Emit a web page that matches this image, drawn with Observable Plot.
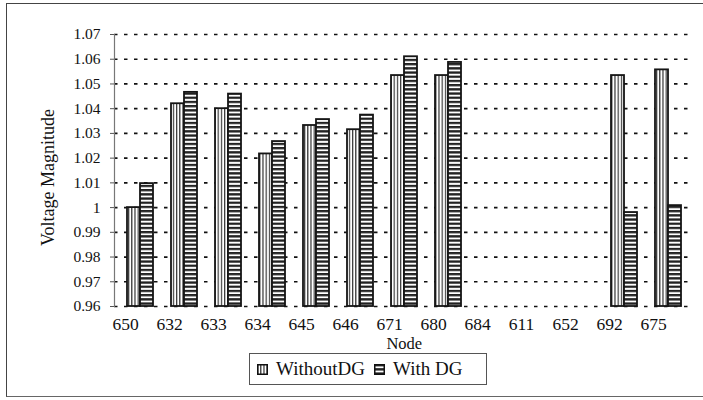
<!DOCTYPE html>
<html>
<head>
<meta charset="utf-8">
<script src="https://cdn.jsdelivr.net/npm/d3@7"></script>
<script src="https://cdn.jsdelivr.net/npm/@observablehq/plot@0.6"></script>
<style>
  body { margin: 0; background: #fff; }
  #wrap { position: relative; width: 703px; height: 400px; overflow: hidden; background: #fff; font-family: "Liberation Serif", "DejaVu Serif", serif; }
  #border { position: absolute; left: 6px; top: 3px; width: 720px; height: 394px; border-left: 1.5px solid #444; border-top: 1.5px solid #444; border-bottom: 1.5px solid #666; box-sizing: border-box; }
  #chart { position: absolute; left: 0; top: 0; }
  #chart svg text { font-family: "Liberation Serif", "DejaVu Serif", serif; }
  #legend { position: absolute; left: 249px; top: 353px; width: 238px; height: 32px; border: 1px solid #555; box-sizing: border-box; display: flex; align-items: center; padding-left: 7px; font-size: 19px; color: #111; font-family: "Liberation Serif", serif; }
  .item { display: flex; align-items: center; margin-right: 9px; }
  .item svg { margin-right: 8px; }
</style>
</head>
<body>
<div id="wrap">
  <div id="border"></div>
  <div id="chart"></div>
  <div id="legend"></div>
</div>
<script>
const nodes = ["650","632","633","634","645","646","671","680","684","611","652","692","675"];
const withoutDG = [1.000, 1.042, 1.040, 1.0217, 1.0332, 1.0315, 1.0534, 1.0534, null, null, null, 1.0534, 1.0557];
const withDG = [1.0097, 1.0466, 1.0459, 1.0267, 1.0356, 1.0374, 1.061, 1.0587, null, null, null, 0.998, 1.0008];
const seriesNames = ["WithoutDG", "With DG"];
const yTicks = [0.96, 0.97, 0.98, 0.99, 1.00, 1.01, 1.02, 1.03, 1.04, 1.05, 1.06, 1.07];
const yTickLabels = ["0.96","0.97","0.98","0.99","1","1.01","1.02","1.03","1.04","1.05","1.06","1.07"];

const rowsA = nodes.map((n, i) => ({node: n, value: withoutDG[i]})).filter(d => d.value != null);
const rowsB = nodes.map((n, i) => ({node: n, value: withDG[i]})).filter(d => d.value != null);
const serif = "Liberation Serif";

const plot = Plot.plot({
  width: 703,
  height: 352,
  marginLeft: 114,
  marginRight: 9.5,
  marginTop: 34,
  marginBottom: 46,
  style: {fontFamily: serif, background: "transparent", color: "#111"},
  x: {domain: nodes, paddingInner: 0.417, paddingOuter: 0.2085, axis: null},
  y: {domain: [0.96, 1.07], axis: null},
  marks: [
    Plot.ruleY(yTicks, {stroke: "#111", strokeWidth: 1.7, strokeDasharray: "3.5,6.5"}),
    Plot.axisY(yTicks, {tickSize: 4, tickPadding: 10, tickFormat: (d, i) => yTickLabels[i], fontSize: 15.5, fontFamily: serif, label: null, stroke: "#555"}),
    Plot.frame({anchor: "left", stroke: "#777", strokeWidth: 1.2}),
    Plot.barY(rowsA, {x: "node", y1: 0.96, y2: "value", fill: "url(#vstripe)", stroke: "#151515", strokeWidth: 1.8, insetRight: 13}),
    Plot.barY(rowsB, {x: "node", y1: 0.96, y2: "value", fill: "url(#hstripe)", stroke: "#151515", strokeWidth: 1.8, insetLeft: 13}),
    Plot.text(nodes, {x: d => d, frameAnchor: "bottom", lineAnchor: "middle", dy: 18, dx: -15, fontSize: 17.5, fontFamily: serif, fill: "#111"}),
    Plot.text(["Node"], {frameAnchor: "bottom", lineAnchor: "middle", textAnchor: "middle", dy: 37.5, fontSize: 16.5, fontFamily: serif, fill: "#111"}),
    Plot.text(["Voltage Magnitude"], {frameAnchor: "left", textAnchor: "middle", lineAnchor: "middle", rotate: -90, dx: -66, dy: 7, fontSize: 18, fontFamily: serif, fill: "#111"})
  ]
});

// patterns
const ns = "http://www.w3.org/2000/svg";
const defs = document.createElementNS(ns, "defs");
defs.innerHTML = `
  <pattern id="vstripe" patternUnits="userSpaceOnUse" width="3.2" height="10">
    <rect width="3.2" height="10" fill="#fff"/>
    <rect x="0" width="1.2" height="10" fill="#333"/>
  </pattern>
  <pattern id="hstripe" patternUnits="userSpaceOnUse" width="10" height="4.2">
    <rect width="10" height="4.2" fill="#fff"/>
    <rect y="0" width="10" height="2.3" fill="#222"/>
  </pattern>`;
plot.insertBefore(defs, plot.firstChild);
document.getElementById("chart").appendChild(plot);

// legend
const legend = document.getElementById("legend");
const fills = ["url(#vstripe)", "url(#hstripe)"];
seriesNames.forEach((name, i) => {
  const item = document.createElement("div");
  item.className = "item";
  item.innerHTML = `<svg width="11" height="11"><rect x="0.75" y="0.75" width="9.5" height="9.5" fill="${fills[i]}" stroke="#111" stroke-width="1.5"/></svg><span>${name}</span>`;
  legend.appendChild(item);
});
</script>
</body>
</html>
